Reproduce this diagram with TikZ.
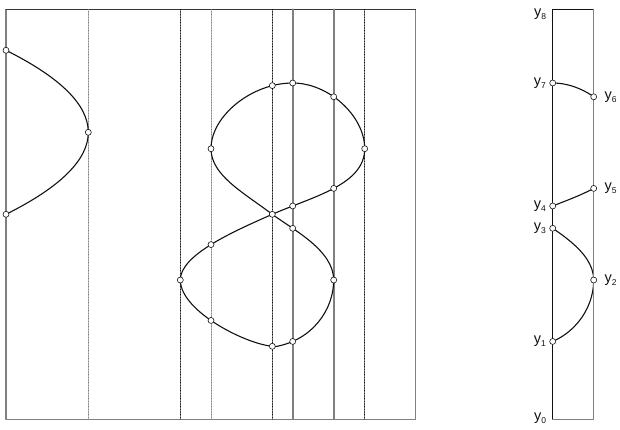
\documentclass[tikz,border=0pt]{standalone}
\usepackage{fontspec}
\setmainfont{Liberation Sans}
\usetikzlibrary{calc, intersections}
\definecolor{inkC}{HTML}{111111}
\definecolor{frameC}{HTML}{808080}
\definecolor{paperC}{HTML}{FFFFFF}

% the figure-eight, in picture units
\newcommand\eightcurve{(272.3,214.3)
  .. controls (312.3,196.7) and (364.7,185) .. (364.7,148.7)
  .. controls (364.7,115.9) and (328.7,83) .. (292.7,83)
  .. controls (251.8,83) and (211,115.9) .. (211,148.7)
  .. controls (211,175) and (242.3,191.8) .. (272.3,214.3)
  .. controls (292.3,229.3) and (333.7,250) .. (333.7,280)
  .. controls (333.7,310) and (312,340) .. (276,346.5)
  .. controls (250,346.5) and (180.3,312) .. (180.3,280)
  .. controls (180.3,255) and (232.3,231.9) .. (272.3,214.3)}
\newcommand\ylbl[1]{y\raisebox{-3pt}{\fontsize{8.5}{9}\selectfont #1}}

\tikzset{
  curve/.style={inkC, line width=1.1pt},
  pt/.style={circle, draw=inkC, fill=paperC, line width=0.6pt,
    inner sep=0pt, minimum size=6pt},
  ylab/.style={font=\fontsize{14.5}{16}\selectfont, text=inkC},
  rlab/.style={label={[ylab, label distance=4pt]right:#1}},
  llab/.style={label={[ylab]left:#1}}
}

\begin{document}
\begin{tikzpicture}[
  x=1pt,
  y=-1pt,
  line cap=round,
  line join=round
]
\useasboundingbox (0,0) rectangle (620,429);

% Sweep box
\draw[frameC, line width=1.2pt] (6,9.3) rectangle (415.7,419.3);
\draw[inkC!85, line width=1pt] (6,9.3) -- (415.7,9.3);

% Event lines
\foreach \x/\c in {88.3/frameC, 180.3/inkC, 211/frameC, 272.3/inkC, 364.7/inkC}{
  \draw[\c, densely dotted, line width=0.6pt] (\x,9.3) -- (\x,419.3);
}
\draw[frameC, line width=1.8pt, name path=slabL] (292.7,9.3) -- (292.7,419.3);
\draw[frameC, line width=1.8pt] (333.7,9.3) -- (333.7,419.3);

% Left arc
\coordinate (pA) at (6,50.3);
\coordinate (pB) at (88.3,132.3);
\coordinate (pC) at (6,214.3);
\draw[curve] (pA) .. controls (60.7,77.6) and (88.3,105) .. (pB)
  .. controls (88.3,159.6) and (60.7,187) .. (pC);
\node[pt] (a1) at (pA) {};
\node[pt] (a2) at (pB) {};
\node[pt] (a3) at (pC) {};

% Figure eight
\draw[curve, name path=eight] \eightcurve;
\path[name path=slabR] (333.7,9.3) -- (333.7,250);
\path[name path=evtA] (272.3,9.3) -- (272.3,150);
\path[name path=evtB] (272.3,300) -- (272.3,419.3);
\path[name path=evtC] (211,200) -- (211,419.3);

\path[name intersections={of=eight and slabL, name=q, sort by=slabL}];
\path[name intersections={of=eight and slabR, name=r, sort by=slabR}];
\path[name intersections={of=eight and evtA, name=ta}];
\path[name intersections={of=eight and evtB, name=tb}];
\path[name intersections={of=eight and evtC, name=tc, sort by=evtC}];

\coordinate (X) at (272.3,214.3);
\coordinate (L1) at (211,148.7);
\coordinate (R1) at (364.7,148.7);
\coordinate (L2) at (180.3,280);
\coordinate (R2) at (333.7,280);
\foreach \p in {X,L1,R1,L2,R2,q-1,q-2,q-3,q-4,r-1,r-2,ta-1,tb-1,tc-1,tc-2}{
  \node[pt] (n-\p) at (\p) {};
}

% Slab between the two solid lines
\begin{scope}[shift={(260,0)}]
  \clip (292.7,0) rectangle (333.7,429);
  \draw[curve] \eightcurve;
\end{scope}
\draw[inkC, line width=1pt] (552.7,419.3) -- (552.7,9.3) -- (593.7,9.3);
\draw[frameC, line width=1.2pt] (552.7,419.3) -- (593.7,419.3) -- (593.7,9.3);

\node[pt, llab={\ylbl{7}}] (y7) at ($(q-1)+(260,0)$) {};
\node[pt, rlab={\ylbl{6}}] (y6) at ($(r-1)+(260,0)$) {};
\node[pt, rlab={\ylbl{5}}] (y5) at ($(r-2)+(260,0)$) {};
\node[pt, llab={\ylbl{4}}] (y4) at ($(q-2)+(260,0)$) {};
\node[pt, llab={\ylbl{3}}] (y3) at ($(q-3)+(260,0)$) {};
\node[pt, rlab={\ylbl{2}}] (y2) at ($(R2)+(260,0)$) {};
\node[pt, llab={\ylbl{1}}] (y1) at ($(q-4)+(260,0)$) {};
\node[ylab, anchor=east] (y8) at (549.7,14) {\ylbl{8}};
\node[ylab, anchor=east] (y0) at (549.7,418.5) {\ylbl{0}};

\end{tikzpicture}
\end{document}
